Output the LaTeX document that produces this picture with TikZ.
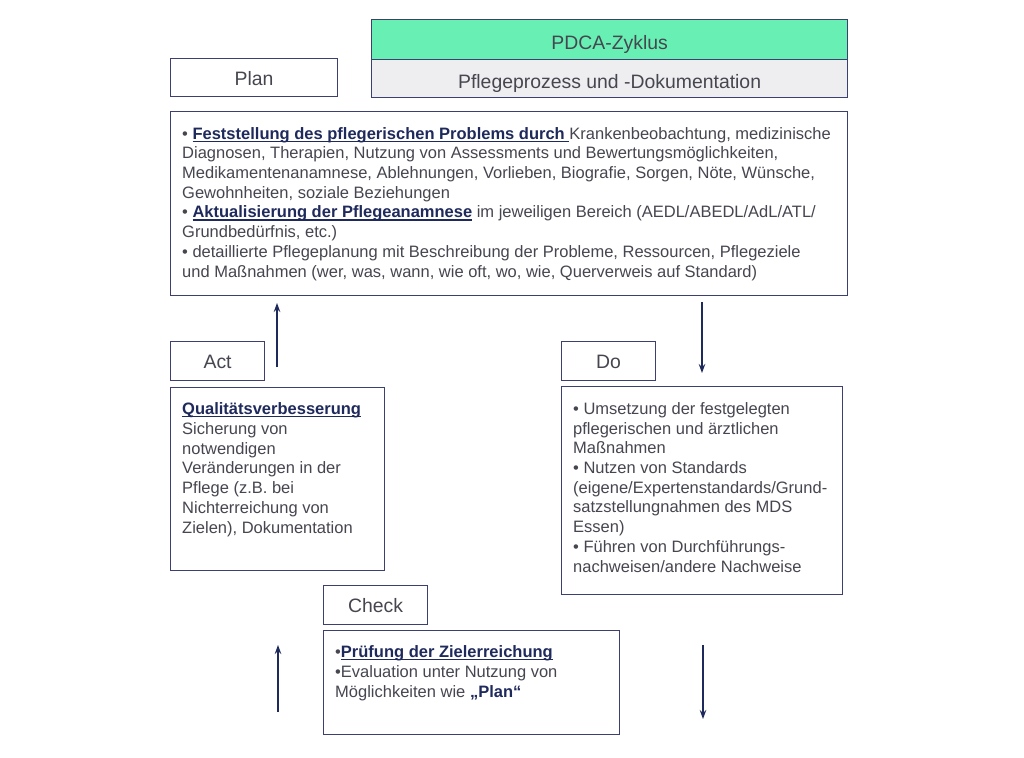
\documentclass[tikz,border=0pt]{standalone}
\usepackage{fontspec}
\setmainfont{Liberation Sans}
\usetikzlibrary{arrows.meta}
\definecolor{frame}{HTML}{3C4070}
\definecolor{navy}{HTML}{1F2A5C}
\definecolor{bodytxt}{HTML}{464650}
\definecolor{mint}{HTML}{68F0B4}
\definecolor{lgray}{HTML}{EEEEF0}
\newcommand\ulx[1]{\setbox0\hbox{#1}\rlap{\rule[-2.6pt]{\wd0}{1.1pt}}\box0}
\newcommand\hl[1]{\textcolor{navy}{\bfseries\ulx{#1}}}
\tikzset{
 box/.style={draw=frame, line width=1.2pt, inner sep=0pt, anchor=north west},
 hdr/.style={box, font=\fontsize{19.4}{22}\selectfont, text=bodytxt, text height=0.688em+7pt, text depth=0pt},
 body/.style={anchor=base west, inner sep=0pt, align=left, text=bodytxt, font=\fontsize{16.5}{19.7}\selectfont},
 flow/.style={draw=navy, line width=1.1pt, -{Stealth[length=9pt,width=6.5pt]}}
}
\begin{document}
\begin{tikzpicture}[x=1pt,y=-1pt]
\fill[white] (0,0) rectangle (1024,757);
\useasboundingbox (0,0) rectangle (1024,757);
% headers
\node[hdr, fill=mint, minimum width=476pt, minimum height=40pt, text height=0.688em+13pt] (pdca) at (371,19) {PDCA-Zyklus};
\node[hdr, fill=lgray, minimum width=476pt, minimum height=38pt, text height=0.688em+13pt] (proc) at (371,59) {Pflegeprozess und -Dokumentation};
\node[hdr, minimum width=167pt, minimum height=38pt, text height=0.688em+8pt] (plan) at (170,58) {Plan};
\node[hdr, minimum width=94pt, minimum height=39pt] (act) at (170,341) {Act};
\node[hdr, minimum width=94pt, minimum height=39pt] (do) at (561,341) {Do};
\node[hdr, minimum width=104pt, minimum height=39pt] (check) at (323,585) {Check};
% content boxes
\node[box, minimum width=677pt, minimum height=184pt] (planbox) at (170,111) {};
\node[box, minimum width=214pt, minimum height=183pt] (actbox) at (170,387) {};
\node[box, minimum width=281pt, minimum height=208pt] (dobox) at (561,386) {};
\node[box, minimum width=296pt, minimum height=104pt] (checkbox) at (323,630) {};
% texts (anchored at the baseline of their last line)
\node[body] (plantxt) at (182,277) {• \hl{Feststellung des pflegerischen Problems durch }Krankenbeobachtung, medizinische\\
Diagnosen, Therapien, Nutzung von Assessments und Bewertungsmöglichkeiten,\\
Medikamentenanamnese, Ablehnungen, Vorlieben, Biografie, Sorgen, Nöte, Wünsche,\\
Gewohnheiten, soziale Beziehungen\\
• \hl{Aktualisierung der Pflegeanamnese} im jeweiligen Bereich (AEDL/ABEDL/AdL/ATL/\\
Grundbedürfnis, etc.)\\
• detaillierte Pflegeplanung mit Beschreibung der Probleme, Ressourcen, Pflegeziele\\
und Maßnahmen (wer, was, wann, wie oft, wo, wie, Querverweis auf Standard)};
\node[body] (acttxt) at (182,533) {\hl{Qualitätsverbesserung}\\
Sicherung von\\
notwendigen\\
Veränderungen in der\\
Pflege (z.B. bei\\
Nichterreichung von\\
Zielen), Dokumentation};
\node[body] (dotxt) at (573,572) {• Umsetzung der festgelegten\\
pflegerischen und ärztlichen\\
Maßnahmen\\
• Nutzen von Standards\\
(eigene/Expertenstandards/Grund-\\
satzstellungnahmen des MDS\\
Essen)\\
• Führen von Durchführungs-\\
nachweisen/andere Nachweise};
\node[body] (checktxt) at (335,697) {•\hl{Prüfung der Zielerreichung}\\
•Evaluation unter Nutzung von\\
Möglichkeiten wie {\bfseries\color{navy}„Plan“}};
% arrows
\coordinate (a1s) at (277,367);
\coordinate (a1e) at (277,303);
\coordinate (a2s) at (702,302);
\coordinate (a2e) at (702,373);
\coordinate (a3s) at (278,712);
\coordinate (a3e) at (278,645);
\coordinate (a4s) at (703,645);
\coordinate (a4e) at (703,719);
\draw[flow] (a1s) -- (a1e);
\draw[flow] (a2s) -- (a2e);
\draw[flow] (a3s) -- (a3e);
\draw[flow] (a4s) -- (a4e);
\end{tikzpicture}
\end{document}
